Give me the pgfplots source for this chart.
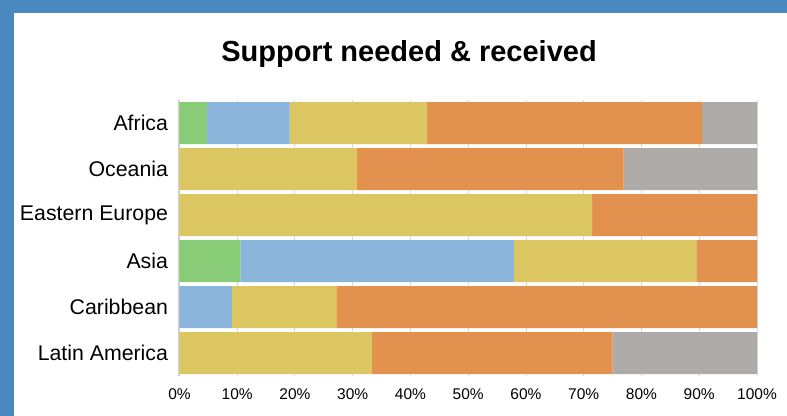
\documentclass[border=0pt]{standalone}
\usepackage{fontspec}
\setmainfont{Liberation Sans}
\usepackage{pgfplots}
\pgfplotsset{compat=1.18}
\definecolor{bgblue}{HTML}{4A88C0}
\definecolor{cgreen}{HTML}{88CC77}
\definecolor{cblue}{HTML}{8BB5DA}
\definecolor{cyellow}{HTML}{DBC662}
\definecolor{corange}{HTML}{E2914F}
\definecolor{cgray}{HTML}{AFABA9}
\begin{document}
\begin{tikzpicture}
\fill[bgblue] (-179.5bp,-40bp) rectangle (607.5bp,376bp);
\fill[white] (-165.5bp,-40bp) rectangle (607.5bp,363bp);
\node[anchor=base, font=\bfseries\fontsize{29bp}{34bp}\selectfont] at (229.5bp,314bp) {Support needed \& received};
\begin{axis}[
  at={(0,0)}, anchor=south west,
  scale only axis, width=577.5bp, height=276bp,
  xbar stacked, bar width=42bp,
  xmin=0, xmax=100, ymin=-0.5, ymax=5.5,
  axis x line*=bottom, axis y line*=left,
  x axis line style={draw=none},
  y axis line style={draw=black!18, line width=2bp, -},
  xmajorgrids, grid style={draw=black!15, line width=1bp},
  major tick length=0pt,
  xtick={0,10,...,100},
  xticklabel={\pgfmathprintnumber{\tick}\%},
  /pgf/number format/assume math mode=true,
  xticklabel style={font=\fontsize{15.5bp}{18bp}\selectfont, yshift=-9.5bp},
  ytick={0,1,2,3,4,5},
  yticklabels={Latin America\hspace{7bp},Caribbean\hspace{13bp},Asia\hspace{14bp},Eastern Europe,Oceania\hspace{8bp},Africa\hspace{7bp}},
  yticklabel style={font=\fontsize{21.3bp}{25bp}\selectfont, xshift=-8bp},
  every axis plot/.append style={draw=none},
]
\addplot[fill=cgreen] coordinates {(0,0) (0,1) (10.53,2) (0,3) (0,4) (4.76,5)};
\addplot[fill=cblue] coordinates {(0,0) (9.09,1) (47.37,2) (0,3) (0,4) (14.29,5)};
\addplot[fill=cyellow] coordinates {(33.33,0) (18.18,1) (31.58,2) (71.43,3) (30.77,4) (23.81,5)};
\addplot[fill=corange] coordinates {(41.67,0) (72.73,1) (10.53,2) (28.57,3) (46.15,4) (47.62,5)};
\addplot[fill=cgray] coordinates {(25,0) (0,1) (0,2) (0,3) (23.08,4) (9.52,5)};
\end{axis}
\end{tikzpicture}
\end{document}
